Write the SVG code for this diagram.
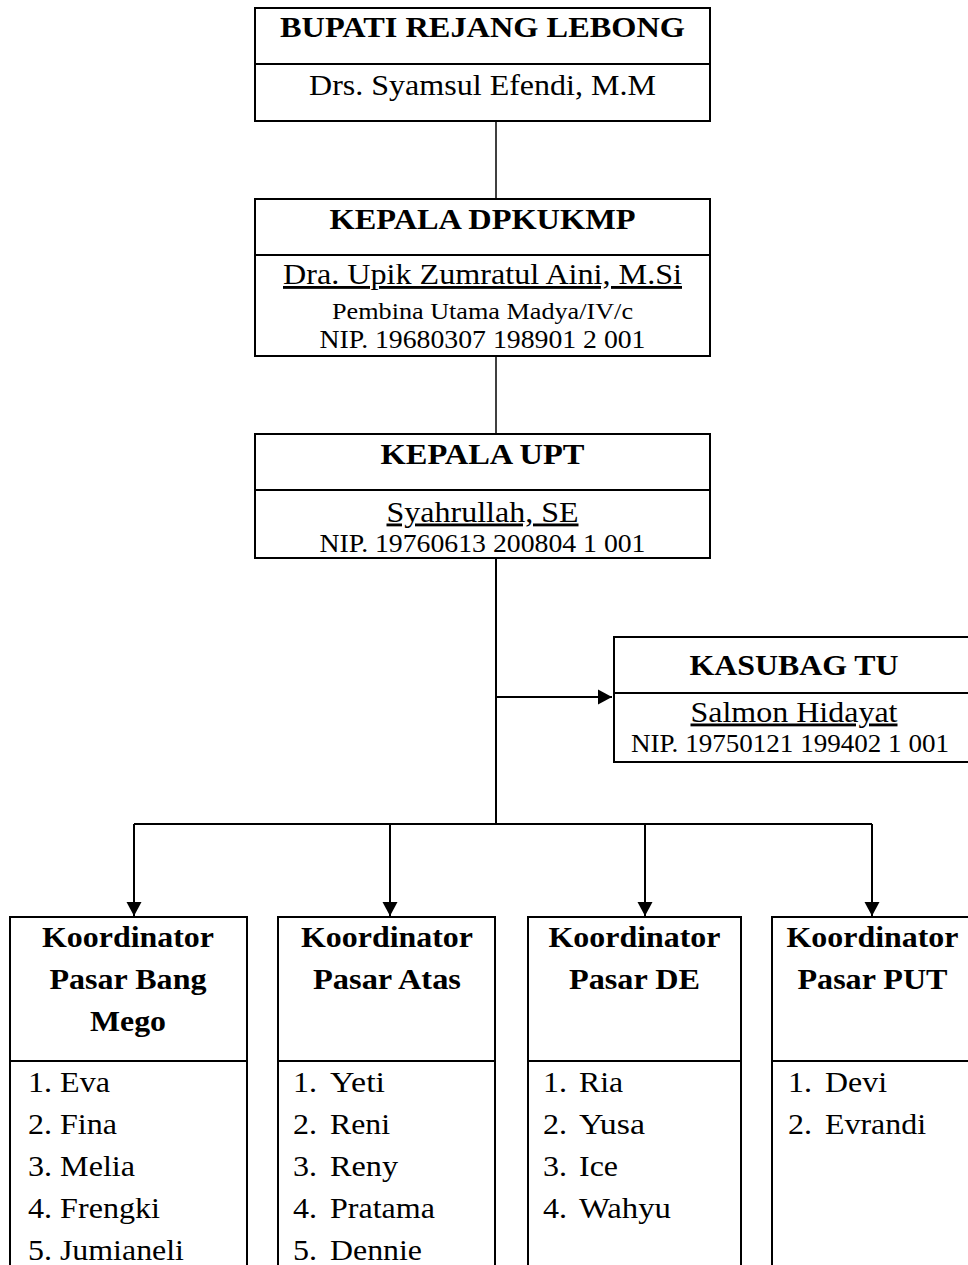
<svg xmlns="http://www.w3.org/2000/svg" width="968" height="1265" viewBox="0 0 968 1265" font-family="'Liberation Serif', 'Times New Roman', Times, serif">
<defs>
<style>
.box{fill:#fff;stroke:#000;stroke-width:2}
.div{stroke:#000;stroke-width:2}
.t{font-family:'Liberation Serif','Times New Roman',Times,serif;fill:#000;font-size:28.5px}
.b{font-weight:bold;text-anchor:middle}
.c{text-anchor:middle}
.s{font-size:24.5px}
.xs{font-size:23px}
.u{text-decoration:underline}
.conn{stroke:#000;stroke-width:2;fill:none}
.thin{stroke-width:1.5}
</style>
<marker id="arr" markerUnits="userSpaceOnUse" markerWidth="16" markerHeight="16" viewBox="0 0 16 16" refX="14" refY="8" orient="auto">
<path d="M0,0.5 L14,8 L0,15.5 Z" fill="#000"/>
</marker>
</defs>
<rect width="968" height="1265" fill="#fff"/>

<g id="connectors">
<line class="conn thin" x1="496" y1="121" x2="496" y2="199"/>
<line class="conn thin" x1="496" y1="356" x2="496" y2="434"/>
<line class="conn" x1="496" y1="558" x2="496" y2="824"/>
<line class="conn" x1="496" y1="697" x2="612" y2="697" marker-end="url(#arr)"/>
<line class="conn" x1="134" y1="824" x2="872" y2="824"/>
<line class="conn" x1="134" y1="824" x2="134" y2="916" marker-end="url(#arr)"/>
<line class="conn" x1="390" y1="824" x2="390" y2="916" marker-end="url(#arr)"/>
<line class="conn" x1="645" y1="824" x2="645" y2="916" marker-end="url(#arr)"/>
<line class="conn" x1="872" y1="824" x2="872" y2="916" marker-end="url(#arr)"/>
</g>

<g id="bupati">
<rect class="box" x="255" y="8" width="455" height="113"/>
<line class="div" x1="255" y1="64" x2="710" y2="64"/>
<text class="t b" x="482.5" y="37" textLength="405" lengthAdjust="spacingAndGlyphs">BUPATI REJANG LEBONG</text>
<text class="t c" x="482.5" y="94.5" textLength="347" lengthAdjust="spacingAndGlyphs">Drs. Syamsul Efendi, M.M</text>
</g>

<g id="kepala-dpkukmp">
<rect class="box" x="255" y="199" width="455" height="157"/>
<line class="div" x1="255" y1="255" x2="710" y2="255"/>
<text class="t b" x="482.5" y="229" textLength="306" lengthAdjust="spacingAndGlyphs">KEPALA DPKUKMP</text>
<text class="t c u" x="482.5" y="284" textLength="399" lengthAdjust="spacingAndGlyphs">Dra. Upik Zumratul Aini, M.Si</text>
<text class="t c xs" x="482.5" y="319" textLength="301" lengthAdjust="spacingAndGlyphs">Pembina Utama Madya/IV/c</text>
<text class="t c s" x="482.5" y="348" textLength="326" lengthAdjust="spacingAndGlyphs">NIP. 19680307 198901 2 001</text>
</g>

<g id="kepala-upt">
<rect class="box" x="255" y="434" width="455" height="124"/>
<line class="div" x1="255" y1="490" x2="710" y2="490"/>
<text class="t b" x="482.5" y="464" textLength="204" lengthAdjust="spacingAndGlyphs">KEPALA UPT</text>
<text class="t c u" x="482.5" y="521.5" textLength="192" lengthAdjust="spacingAndGlyphs">Syahrullah, SE</text>
<text class="t c s" x="482.5" y="551.5" textLength="326" lengthAdjust="spacingAndGlyphs">NIP. 19760613 200804 1 001</text>
</g>

<g id="kasubag-tu">
<rect class="box" x="614" y="637" width="362" height="125"/>
<line class="div" x1="614" y1="693" x2="976" y2="693"/>
<text class="t b" x="794" y="675" textLength="209" lengthAdjust="spacingAndGlyphs">KASUBAG TU</text>
<text class="t c u" x="794" y="721.5" textLength="207" lengthAdjust="spacingAndGlyphs">Salmon Hidayat</text>
<text class="t c s" x="790" y="751.5" textLength="318" lengthAdjust="spacingAndGlyphs">NIP. 19750121 199402 1 001</text>
</g>

<g id="koord-bang-mego">
<rect class="box" x="10" y="917" width="237" height="370"/>
<line class="div" x1="10" y1="1061" x2="247" y2="1061"/>
<text class="t b" x="128" y="947" textLength="172" lengthAdjust="spacingAndGlyphs">Koordinator</text>
<text class="t b" x="128" y="989" textLength="157" lengthAdjust="spacingAndGlyphs">Pasar Bang</text>
<text class="t b" x="128" y="1031" textLength="76" lengthAdjust="spacingAndGlyphs">Mego</text>
<text class="t" x="28" y="1091.5" textLength="82" lengthAdjust="spacingAndGlyphs">1. Eva</text>
<text class="t" x="28" y="1133.5" textLength="89" lengthAdjust="spacingAndGlyphs">2. Fina</text>
<text class="t" x="28" y="1175.5" textLength="107" lengthAdjust="spacingAndGlyphs">3. Melia</text>
<text class="t" x="28" y="1217.5" textLength="132" lengthAdjust="spacingAndGlyphs">4. Frengki</text>
<text class="t" x="28" y="1259.5" textLength="156" lengthAdjust="spacingAndGlyphs">5. Jumianeli</text>
</g>

<g id="koord-atas">
<rect class="box" x="278" y="917" width="217" height="370"/>
<line class="div" x1="278" y1="1061" x2="495" y2="1061"/>
<text class="t b" x="387" y="947" textLength="172" lengthAdjust="spacingAndGlyphs">Koordinator</text>
<text class="t b" x="387" y="989" textLength="148" lengthAdjust="spacingAndGlyphs">Pasar Atas</text>
<text class="t" x="293" y="1091.5"><tspan textLength="24" lengthAdjust="spacingAndGlyphs">1.</tspan><tspan x="330" textLength="55" lengthAdjust="spacingAndGlyphs">Yeti</tspan></text>
<text class="t" x="293" y="1133.5"><tspan textLength="24" lengthAdjust="spacingAndGlyphs">2.</tspan><tspan x="330" textLength="60" lengthAdjust="spacingAndGlyphs">Reni</tspan></text>
<text class="t" x="293" y="1175.5"><tspan textLength="24" lengthAdjust="spacingAndGlyphs">3.</tspan><tspan x="330" textLength="68" lengthAdjust="spacingAndGlyphs">Reny</tspan></text>
<text class="t" x="293" y="1217.5"><tspan textLength="24" lengthAdjust="spacingAndGlyphs">4.</tspan><tspan x="330" textLength="105" lengthAdjust="spacingAndGlyphs">Pratama</tspan></text>
<text class="t" x="293" y="1259.5"><tspan textLength="24" lengthAdjust="spacingAndGlyphs">5.</tspan><tspan x="330" textLength="92" lengthAdjust="spacingAndGlyphs">Dennie</tspan></text>
</g>

<g id="koord-de">
<rect class="box" x="528" y="917" width="213" height="370"/>
<line class="div" x1="528" y1="1061" x2="741" y2="1061"/>
<text class="t b" x="634.5" y="947" textLength="172" lengthAdjust="spacingAndGlyphs">Koordinator</text>
<text class="t b" x="634.5" y="989" textLength="131" lengthAdjust="spacingAndGlyphs">Pasar DE</text>
<text class="t" x="543" y="1091.5"><tspan textLength="24" lengthAdjust="spacingAndGlyphs">1.</tspan><tspan x="579" textLength="44" lengthAdjust="spacingAndGlyphs">Ria</tspan></text>
<text class="t" x="543" y="1133.5"><tspan textLength="24" lengthAdjust="spacingAndGlyphs">2.</tspan><tspan x="579" textLength="66" lengthAdjust="spacingAndGlyphs">Yusa</tspan></text>
<text class="t" x="543" y="1175.5"><tspan textLength="24" lengthAdjust="spacingAndGlyphs">3.</tspan><tspan x="579" textLength="39" lengthAdjust="spacingAndGlyphs">Ice</tspan></text>
<text class="t" x="543" y="1217.5"><tspan textLength="24" lengthAdjust="spacingAndGlyphs">4.</tspan><tspan x="579" textLength="92" lengthAdjust="spacingAndGlyphs">Wahyu</tspan></text>
</g>

<g id="koord-put">
<rect class="box" x="772" y="917" width="204" height="370"/>
<line class="div" x1="772" y1="1061" x2="976" y2="1061"/>
<text class="t b" x="872.5" y="947" textLength="172" lengthAdjust="spacingAndGlyphs">Koordinator</text>
<text class="t b" x="872.5" y="989" textLength="150" lengthAdjust="spacingAndGlyphs">Pasar PUT</text>
<text class="t" x="788" y="1091.5"><tspan textLength="24" lengthAdjust="spacingAndGlyphs">1.</tspan><tspan x="825" textLength="62" lengthAdjust="spacingAndGlyphs">Devi</tspan></text>
<text class="t" x="788" y="1133.5"><tspan textLength="24" lengthAdjust="spacingAndGlyphs">2.</tspan><tspan x="825" textLength="101" lengthAdjust="spacingAndGlyphs">Evrandi</tspan></text>
</g>
</svg>
